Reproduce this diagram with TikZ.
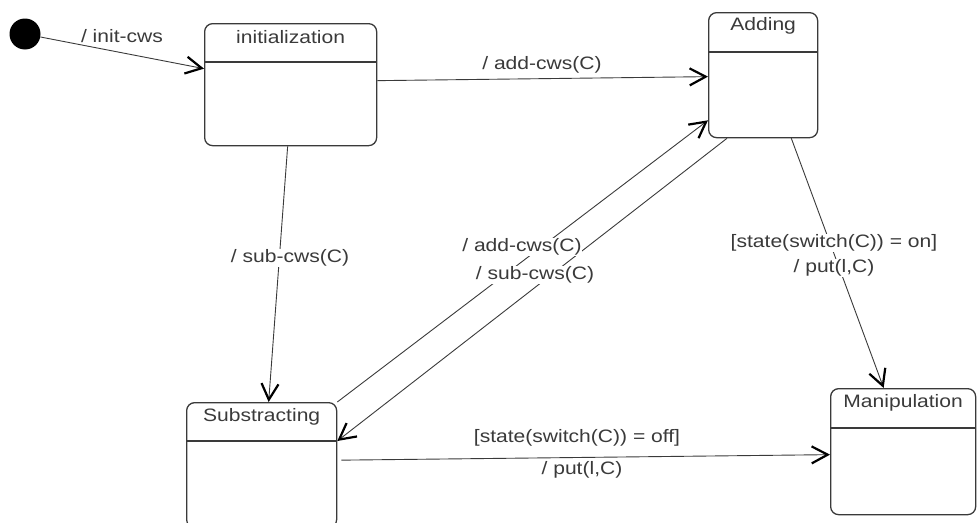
\documentclass[tikz,border=0pt]{standalone}
\usepackage{fontspec}
\setmainfont{Liberation Sans}[FakeStretch=1.17]
\usetikzlibrary{arrows.meta}
\definecolor{ink}{HTML}{3A3A3A}
\begin{document}
\begin{tikzpicture}[x=1pt,y=-1pt,
  font=\fontsize{18}{21}\selectfont,
  statebox/.style={draw=ink, line width=1.3pt, rounded corners=8pt,
    anchor=north west, inner sep=0pt},
  divider/.style={draw=ink, line width=1.3pt},
  title/.style={text=ink, inner sep=0pt},
  trans/.style={draw=ink, line width=0.9pt,
    -{Straight Barb[length=16pt,width=17pt,line width=2.2pt,black]}},
  lbl/.style={text=ink, fill=white, inner sep=0.5pt}]
\useasboundingbox (0,0) rectangle (977,522);

% states
\node[statebox, minimum width=172pt, minimum height=122pt] (init) at (204,23) {};
\node[statebox, minimum width=109pt, minimum height=125pt] (add)  at (708,12) {};
\node[statebox, minimum width=150pt, minimum height=125pt] (sub)  at (186,402) {};
\node[statebox, minimum width=145pt, minimum height=126pt] (man)  at (830,388) {};

% compartment lines
\draw[divider] ([yshift=-39pt]init.north west) -- ([yshift=-39pt]init.north east);
\draw[divider] ([yshift=-40pt]add.north west)  -- ([yshift=-40pt]add.north east);
\draw[divider] ([yshift=-39pt]sub.north west)  -- ([yshift=-39pt]sub.north east);
\draw[divider] ([yshift=-40pt]man.north west)  -- ([yshift=-40pt]man.north east);

% state names
\node[title] (initT) at ([yshift=-14pt]init.north) {initialization};
\node[title] (addT)  at ([yshift=-14pt]add.north)  {Adding};
\node[title] (subT)  at ([yshift=-15pt]sub.north)  {Substracting};
\node[title] (manT)  at ([yshift=-15pt]man.north)  {Manipulation};

% initial pseudo-state
\node[circle, fill=black, minimum size=31pt, inner sep=0pt] (start) at (25,34) {};

% transitions
\draw[trans] (start) -- ([yshift=16pt]init.west);
\draw[trans] ([yshift=4pt]init.east) -- ([yshift=-1.5pt]add.west);
\draw[trans] ([xshift=-3pt]init.south) -- ([xshift=7pt]sub.north);
\draw[trans] (sub.north east) -- ([yshift=18pt]add.south west);
\draw[trans] ([xshift=19pt]add.south west) -- ([yshift=-39pt]sub.north east);
\draw[trans] ([xshift=-27pt]add.south east) -- ([xshift=-19.5pt]man.north);
\draw[trans] ([xshift=4pt,yshift=5pt]sub.east) -- ([yshift=-3pt]man.west);

% transition labels
\node[lbl] (lInit)  at (122,36)  {/ init-cws};
\node[lbl] (lAdd1)  at (542,65)  {/ add-cws(C)};
\node[lbl] (lSub1)  at (290,258) {/ sub-cws(C)};
\node[lbl] (lAdd2)  at (522,247) {/ add-cws(C)};
\node[lbl] (lSub2)  at (535,275) {/ sub-cws(C)};
\node[lbl] (lOnG)   at (834,243) {[state(switch(C)) = on]};
\node[lbl] (lOnA)   at (834,268) {/ put(l,C)};
\node[lbl] (lOffG)  at (577,438) {[state(switch(C)) = off]};
\node[lbl] (lOffA)  at (582,470) {/ put(l,C)};
\end{tikzpicture}
\end{document}
